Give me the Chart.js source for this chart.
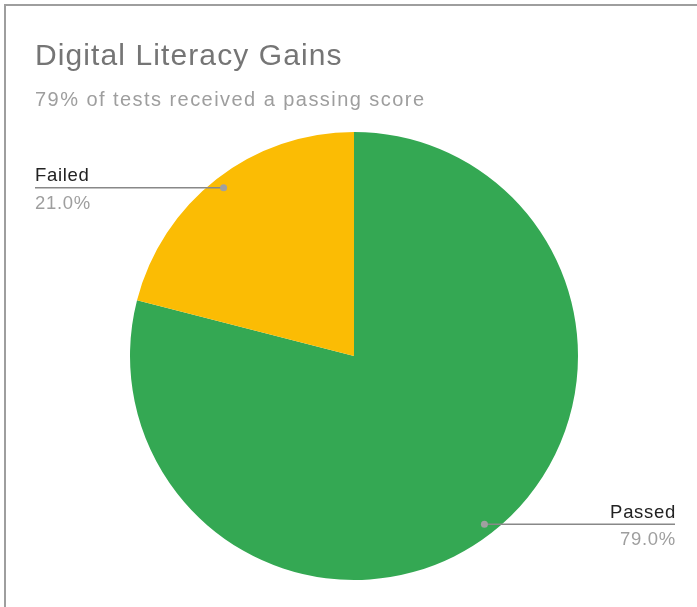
<!DOCTYPE html>
<html>
<head>
<meta charset="utf-8">
<script src="https://cdn.jsdelivr.net/npm/chart.js@4"></script>
<style>
  body { margin: 0; background: #fff; font-family: "Liberation Sans", Arial, sans-serif; }
  #wrap { position: relative; width: 697px; height: 607px; overflow: hidden; }
  #frame { position: absolute; left: 4px; top: 4px; width: 720px; height: 640px; border-top: 2px solid #9e9e9e; border-left: 2px solid #9e9e9e; box-sizing: border-box; }
  canvas { position: absolute; left: 0; top: 0; }
</style>
</head>
<body>
<div id="wrap">
  <div id="frame"></div>
  <canvas id="pieChart" width="697" height="607"></canvas>
</div>
<script>
const categories = ['Passed', 'Failed'];
const values = [79.0, 21.0];
const colors = ['#34a853', '#fbbc04'];
const titleText = 'Digital Literacy Gains';
const subtitleText = '79% of tests received a passing score';

const FONT = '"Liberation Sans", Arial, sans-serif';

// title block and leader labels, drawn on the chart canvas
const leaderLabels = {
  id: 'leaderLabels',
  afterDraw(chart, args, opts) {
    const ctx = chart.ctx;
    ctx.save();
    ctx.textAlign = 'left';
    ctx.textBaseline = 'alphabetic';
    ctx.font = '30px ' + FONT;
    ctx.letterSpacing = '1.1px';
    ctx.fillStyle = '#757575';
    ctx.fillText(titleText, 35, 64.5);
    ctx.font = '20px ' + FONT;
    ctx.letterSpacing = '1.45px';
    ctx.fillStyle = '#9e9e9e';
    ctx.fillText(subtitleText, 35, 105.5);
    ctx.restore();

    const meta = chart.getDatasetMeta(0);
    const total = values.reduce((a, b) => a + b, 0);
    meta.data.forEach((arc, i) => {
      const mid = (arc.startAngle + arc.endAngle) / 2;
      const r = arc.outerRadius * 0.95;
      const px = arc.x + Math.cos(mid) * r;
      const py = arc.y + Math.sin(mid) * r;
      const left = Math.cos(mid) < 0;
      const endX = left ? opts.leftX : opts.rightX;

      ctx.save();
      ctx.strokeStyle = '#888';
      ctx.lineWidth = 1.5;
      ctx.beginPath();
      ctx.moveTo(px, py);
      ctx.lineTo(endX, py);
      ctx.stroke();
      ctx.fillStyle = '#a0a0a0';
      ctx.beginPath();
      ctx.arc(px, py, 3.5, 0, Math.PI * 2);
      ctx.fill();

      ctx.textAlign = left ? 'left' : 'right';
      ctx.font = '18.5px ' + FONT;
      ctx.letterSpacing = '0.7px';
      ctx.textBaseline = 'alphabetic';
      const tx = left ? endX : endX + 1;
      ctx.fillStyle = '#222';
      ctx.fillText(categories[i], tx, py - 6.5);
      ctx.fillStyle = '#9e9e9e';
      ctx.fillText((values[i] / total * 100).toFixed(1) + '%', tx, py + 21);
      ctx.restore();
    });
  }
};

const ctx = document.getElementById('pieChart').getContext('2d');
new Chart(ctx, {
  type: 'pie',
  data: {
    labels: categories,
    datasets: [{
      data: values,
      backgroundColor: colors,
      borderWidth: 0
    }]
  },
  options: {
    responsive: false,
    animation: false,
    layout: {
      padding: { left: 130, right: 119, top: 132, bottom: 27 }
    },
    plugins: {
      legend: { display: false },
      tooltip: { enabled: false },
      leaderLabels: { leftX: 35, rightX: 675 }
    }
  },
  plugins: [leaderLabels]
});
</script>
</body>
</html>
